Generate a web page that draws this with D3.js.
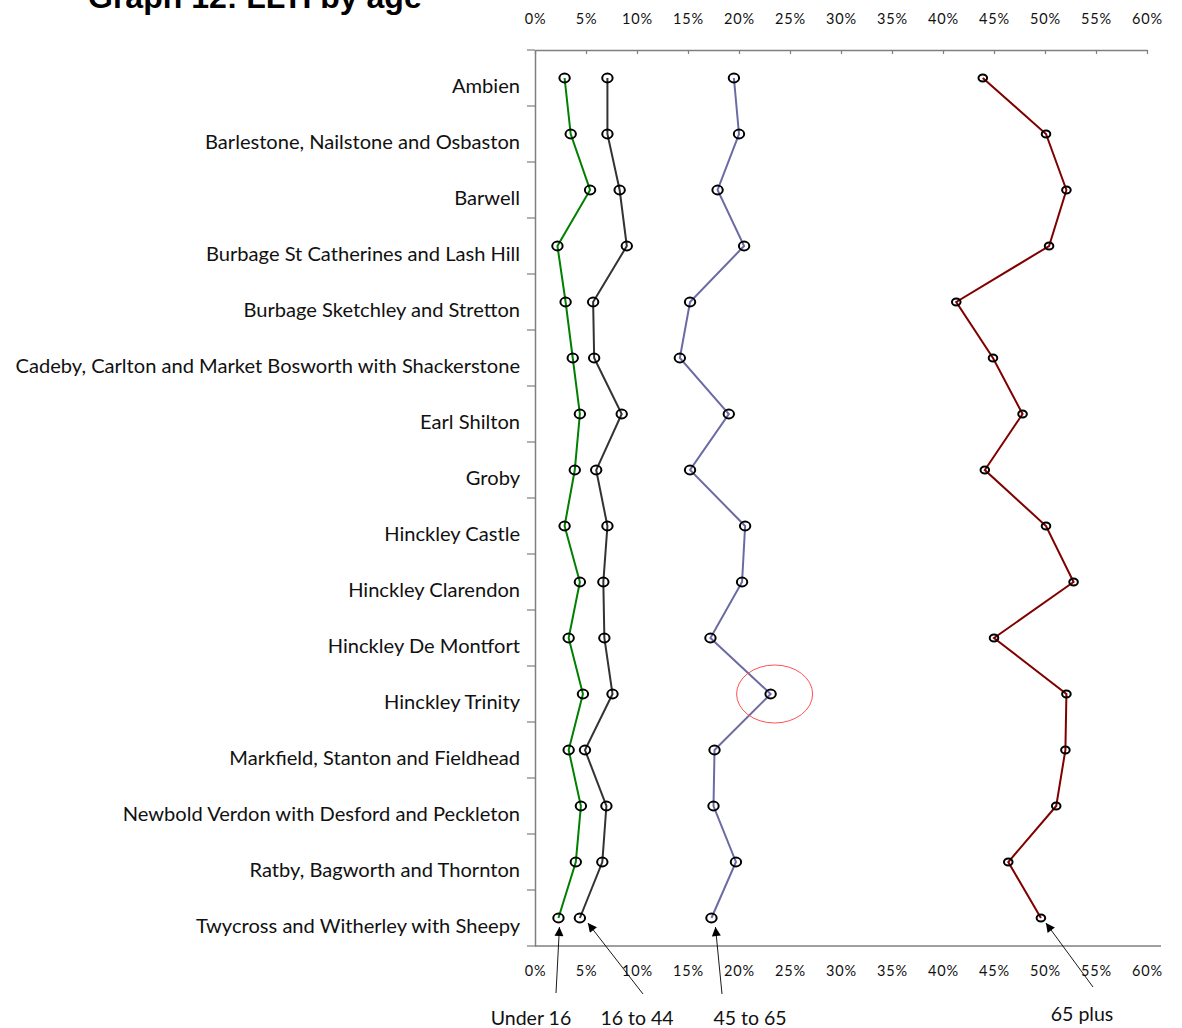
<!DOCTYPE html>
<html>
<head>
<meta charset="utf-8">
<script src="https://cdn.jsdelivr.net/npm/d3@7"></script>
<style>
  html, body { margin: 0; padding: 0; background: #fff; }
  svg { display: block; }
  .cat text { font-family: Lato, "Open Sans", sans-serif; font-size: 20.1px; fill: #111; }
  .pct text { font-family: Lato, "Open Sans", sans-serif; font-size: 14.5px; fill: #111; letter-spacing: 0.8px; }
  .note { font-family: Lato, "Open Sans", sans-serif; font-size: 19.5px; fill: #111; }
</style>
</head>
<body>
<svg id="chart" width="1182" height="1028"></svg>
<script>
// Wards, top to bottom
const categories = [
  "Ambien",
  "Barlestone, Nailstone and Osbaston",
  "Barwell",
  "Burbage St Catherines and Lash Hill",
  "Burbage Sketchley and Stretton",
  "Cadeby, Carlton and Market Bosworth with Shackerstone",
  "Earl Shilton",
  "Groby",
  "Hinckley Castle",
  "Hinckley Clarendon",
  "Hinckley De Montfort",
  "Hinckley Trinity",
  "Markfield, Stanton and Fieldhead",
  "Newbold Verdon with Desford and Peckleton",
  "Ratby, Bagworth and Thornton",
  "Twycross and Witherley with Sheepy"
];

// Share of each age group with a limiting long-term illness (%)
const under16   = [2.9, 3.5, 5.4, 2.2, 3.0, 3.7, 4.4, 3.9, 2.9, 4.4, 3.3, 4.7, 3.3, 4.5, 4.0, 2.3];
const age16to44 = [7.1, 7.1, 8.3, 9.0, 5.7, 5.8, 8.5, 6.0, 7.1, 6.7, 6.8, 7.6, 4.9, 7.0, 6.6, 4.4];
const age45to65 = [19.5, 20.0, 17.9, 20.5, 15.2, 14.2, 19.0, 15.2, 20.6, 20.3, 17.2, 23.1, 17.6, 17.5, 19.7, 17.3];
const age65plus = [43.9, 50.1, 52.1, 50.4, 41.3, 44.9, 47.8, 44.1, 50.1, 52.8, 45.0, 52.1, 52.0, 51.1, 46.4, 49.6];

const seriesNames  = ["Under 16", "16 to 44", "45 to 65", "65 plus"];
const seriesColors = ["#008000", "#333333", "#6b6ba3", "#800000"];
const tickValues   = [0, 5, 10, 15, 20, 25, 30, 35, 40, 45, 50, 55, 60];

const series = [under16, age16to44, age45to65, age65plus].map((vals, i) => ({
  name: seriesNames[i],
  color: seriesColors[i],
  values: vals.map((v, j) => ({ cat: categories[j], v }))
}));

const svg = d3.select("#chart");
const plotLeft = 535, plotRight = 1147, plotTop = 50, plotBottom = 946;

const x = d3.scaleLinear().domain([0, 60]).range([plotLeft, plotRight]);
const y = d3.scaleBand().domain(categories).range([plotTop, plotBottom]).padding(0);
const yc = c => y(c) + y.bandwidth() / 2;
const fmt = d => d + "%";
const axisGrey = "#7f7f7f";

// Title
svg.append("text")
  .attr("x", 88).attr("y", 8)
  .attr("font-family", "Liberation Sans, Arial, sans-serif")
  .attr("font-weight", "bold").attr("font-size", 32)
  .attr("fill", "#000")
  .text("Graph 12: LLTI by age");

// Top value axis
const gTop = svg.append("g").attr("class", "pct")
  .attr("transform", `translate(0,${plotTop})`)
  .call(d3.axisTop(x).tickValues(tickValues).tickFormat(fmt)
        .tickSizeInner(-4).tickSizeOuter(0).tickPadding(26));
gTop.select(".domain").attr("stroke", axisGrey).attr("stroke-width", 1.5);
gTop.selectAll(".tick line").attr("stroke", axisGrey).attr("stroke-width", 1.2);

// Bottom value axis (labels only, line drawn separately)
const gBot = svg.append("g").attr("class", "pct")
  .attr("transform", `translate(0,${plotBottom})`)
  .call(d3.axisBottom(x).tickValues(tickValues).tickFormat(fmt)
        .tickSize(0).tickPadding(20));
gBot.select(".domain").remove();
svg.append("line")
  .attr("x1", plotLeft).attr("x2", 1161).attr("y1", plotBottom).attr("y2", plotBottom)
  .attr("stroke", axisGrey).attr("stroke-width", 1.5);

// Category axis
const gLeft = svg.append("g").attr("class", "cat")
  .attr("transform", `translate(${plotLeft},0)`)
  .call(d3.axisLeft(y).tickSize(0).tickPadding(15));
gLeft.select(".domain").attr("stroke", axisGrey).attr("stroke-width", 1.5);
gLeft.selectAll(".tick text").attr("dy", "0.8em").attr("y", -1.5);
// band boundary ticks
const bounds = categories.map(c => y(c)).concat([plotBottom]);
svg.append("g").selectAll("line").data(bounds).join("line")
  .attr("x1", plotLeft - 8).attr("x2", plotLeft)
  .attr("y1", d => d).attr("y2", d => d)
  .attr("stroke", axisGrey).attr("stroke-width", 1.2);

// Series lines
const line = d3.line().x(d => x(d.v)).y(d => yc(d.cat));
svg.append("g").selectAll("path").data(series).join("path")
  .attr("d", s => line(s.values))
  .attr("fill", "none")
  .attr("stroke", s => s.color)
  .attr("stroke-width", 2);

// Open circle markers
series.forEach((s, i) => {
  const small = i === 3;
  svg.append("g").selectAll("ellipse").data(s.values).join("ellipse")
    .attr("cx", d => x(d.v)).attr("cy", d => yc(d.cat))
    .attr("rx", small ? 4.3 : 5.2).attr("ry", small ? 3.5 : 4.4)
    .attr("fill", "none").attr("stroke", "#000").attr("stroke-width", 2);
});

// Highlight ring around Hinckley Trinity, 45 to 65
const hi = series[2].values[11];
svg.append("ellipse")
  .attr("cx", x(hi.v) + 4).attr("cy", yc(hi.cat))
  .attr("rx", 38).attr("ry", 29)
  .attr("fill", "none").attr("stroke", "#ff5050").attr("stroke-width", 1);

// Arrow annotations naming each series, pointing at the last ward
svg.append("defs").append("marker")
  .attr("id", "head").attr("viewBox", "0 0 10 10")
  .attr("refX", 10).attr("refY", 5)
  .attr("markerWidth", 12).attr("markerHeight", 9)
  .attr("markerUnits", "userSpaceOnUse")
  .attr("orient", "auto")
  .append("path").attr("d", "M0,0 L10,5 L0,10 Z").attr("fill", "#000");

const notes = [
  { s: 0, tip: [1, 9],  tail: [556, 993],  label: [531, 1025] },
  { s: 1, tip: [8, 5],  tail: [643, 994],  label: [637, 1025] },
  { s: 2, tip: [4, 9],  tail: [722, 994],  label: [750, 1025] },
  { s: 3, tip: [5, 5],  tail: [1093, 987], label: [1082, 1021] }
];
const lastCat = categories[categories.length - 1];
notes.forEach(n => {
  const p = series[n.s].values[categories.length - 1];
  svg.append("line")
    .attr("x1", n.tail[0]).attr("y1", n.tail[1])
    .attr("x2", x(p.v) + n.tip[0]).attr("y2", yc(lastCat) + n.tip[1])
    .attr("stroke", "#000").attr("stroke-width", 0.9)
    .attr("marker-end", "url(#head)");
  svg.append("text").attr("class", "note")
    .attr("x", n.label[0]).attr("y", n.label[1])
    .attr("text-anchor", "middle")
    .text(series[n.s].name);
});
</script>
</body>
</html>
